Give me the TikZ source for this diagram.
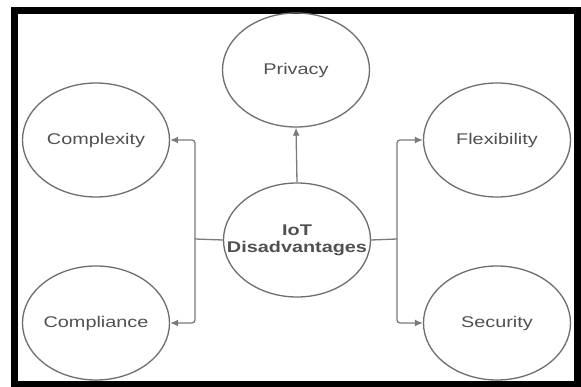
\documentclass[tikz,border=0pt]{standalone}
\usepackage{fontspec}
\setmainfont{Liberation Sans}
\usetikzlibrary{shapes.geometric,arrows.meta}
\definecolor{edgegray}{HTML}{6E6E6E}
\definecolor{txtgray}{HTML}{505050}
\definecolor{linegray}{HTML}{7A7A7A}
\newcommand{\wtxt}[1]{\makebox[0pt][c]{\scalebox{1.28}[1]{#1}}}
\begin{document}
\begin{tikzpicture}[x=1pt,y=-1pt,
  bubble/.style={draw=edgegray, line width=1.3pt, ellipse, minimum width=147pt, minimum height=114pt, inner sep=0pt,
    font=\fontsize{15.5}{19}\selectfont, text=txtgray, align=center},
  conn/.style={draw=linegray, line width=1.3pt, rounded corners=3pt},
  arr/.style={conn, -{Latex[length=8pt,width=7pt]}}
]
\useasboundingbox (0,0) rectangle (581,387);
\fill[white] (0,0) rectangle (581,387);
\draw[black, line width=7pt] (14.5,11) rectangle (577.5,384.5);

\node[bubble] (pr) at (296,70) {\wtxt{Privacy}};
\node[bubble] (cx) at (96,140) {\wtxt{Complexity}};
\node[bubble] (fx) at (497,140) {\wtxt{Flexibility}};
\node[bubble] (cp) at (96,323) {\wtxt{Compliance}};
\node[bubble] (sc) at (497,323) {\wtxt{Security}};
\node[bubble] (io) at (297,240) {\wtxt{\textbf{IoT}}\\[-2pt]\wtxt{\textbf{Disadvantages}}};

\coordinate (jl) at (195,239);
\coordinate (jr) at (397,239);

\draw[arr] (io.north) -- (pr.south);
\draw[conn] (io.west) -- (jl);
\draw[conn] (io.east) -- (jr);
\draw[arr] (jl) |- (cx.east);
\draw[arr] (jl) |- (cp.east);
\draw[arr] (jr) |- (fx.west);
\draw[arr] (jr) |- (sc.west);
\end{tikzpicture}
\end{document}
